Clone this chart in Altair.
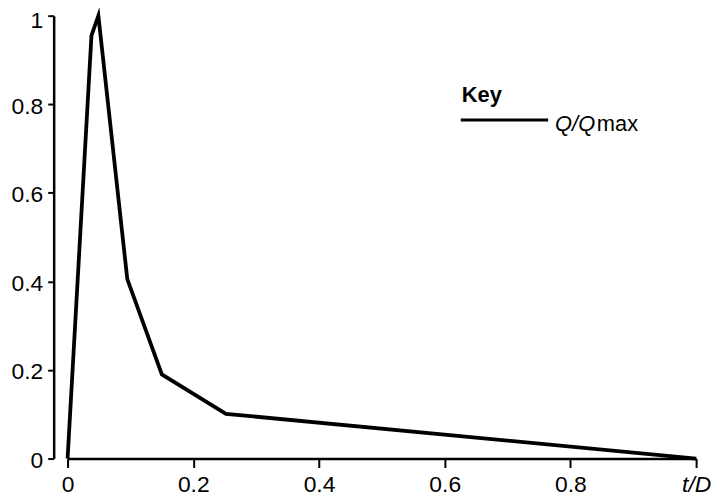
import altair as alt
import pandas as pd

# Data
t_over_d = [0.0, 0.038, 0.049, 0.095, 0.150, 0.252, 1.0]
q_over_qmax = [0.0, 0.955, 1.0, 0.405, 0.19, 0.101, 0.0]

x_ticks = [0, 0.2, 0.4, 0.6, 0.8, 1.0]
y_ticks = [0, 0.2, 0.4, 0.6, 0.8, 1.0]

key_title = "Key"
key_label_italic = "Q/Q"
key_label_plain = "max"
x_end_label = "t/D"

FONT = "Liberation Sans"

df = pd.DataFrame({"t": t_over_d, "q": q_over_qmax})
one = pd.DataFrame({"k": [0]})

line = alt.Chart(df).mark_line(
    color="black", strokeWidth=3.8, strokeJoin="miter", strokeMiterLimit=12
).encode(
    x=alt.X(
        "t:Q",
        scale=alt.Scale(domain=[0, 1], nice=False, zero=False),
        axis=alt.Axis(
            title=None,
            values=x_ticks,
            format="~g",
            labelExpr=f"datum.value == 1 ? '{x_end_label}' : datum.label",
            labelFontStyle={"condition": {"test": "datum.value == 1", "value": "italic"}, "value": "normal"},
            labelFlush=False,
            labelOverlap=False,
            labelPadding=6,
            tickSize=9,
            tickWidth=2,
            tickColor="black",
            domainColor="black",
            domainWidth=2.5,
            labelFont=FONT,
            labelFontSize=23,
            labelColor="black",
            grid=False,
        ),
    ),
    y=alt.Y(
        "q:Q",
        scale=alt.Scale(domain=[0, 1], nice=False, zero=False),
        axis=alt.Axis(
            title=None,
            values=y_ticks,
            format="~g",
            offset=14,
            labelFlush=False,
            labelOverlap=False,
            labelPadding=5,
            labelOffset={"condition": {"test": "datum.value == 1", "value": 5}, "value": 2},
            tickSize=6,
            tickWidth=2,
            tickColor="black",
            domainColor="black",
            domainWidth=2.5,
            labelFont=FONT,
            labelFontSize=23,
            labelColor="black",
            grid=False,
        ),
    ),
)

key_text = alt.Chart(one).mark_text(
    text=key_title, font=FONT, fontSize=22, fontWeight="bold", align="left", baseline="alphabetic", color="black"
).encode(x=alt.value(397), y=alt.value(87))

key_rule = alt.Chart(one).mark_rule(color="black", strokeWidth=3).encode(
    x=alt.value(396), x2=alt.value(484), y=alt.value(105)
)

key_lab1 = alt.Chart(one).mark_text(
    text=key_label_italic, font=FONT, fontSize=22, fontStyle="italic", align="left", baseline="alphabetic", color="black"
).encode(x=alt.value(491), y=alt.value(116))

key_lab2 = alt.Chart(one).mark_text(
    text=key_label_plain, font=FONT, fontSize=22, align="left", baseline="alphabetic", color="black"
).encode(x=alt.value(533), y=alt.value(116))

chart = (
    alt.layer(line, key_text, key_rule, key_lab1, key_lab2)
    .properties(
        width=633,
        height=446,
        autosize=alt.AutoSizeParams(type="none"),
        padding={"left": 60, "top": 6, "right": 17, "bottom": 38},
        background="white",
    )
    .configure_view(stroke=None)
)

chart.save("out.html", embed_options={"renderer": "svg", "actions": False})
